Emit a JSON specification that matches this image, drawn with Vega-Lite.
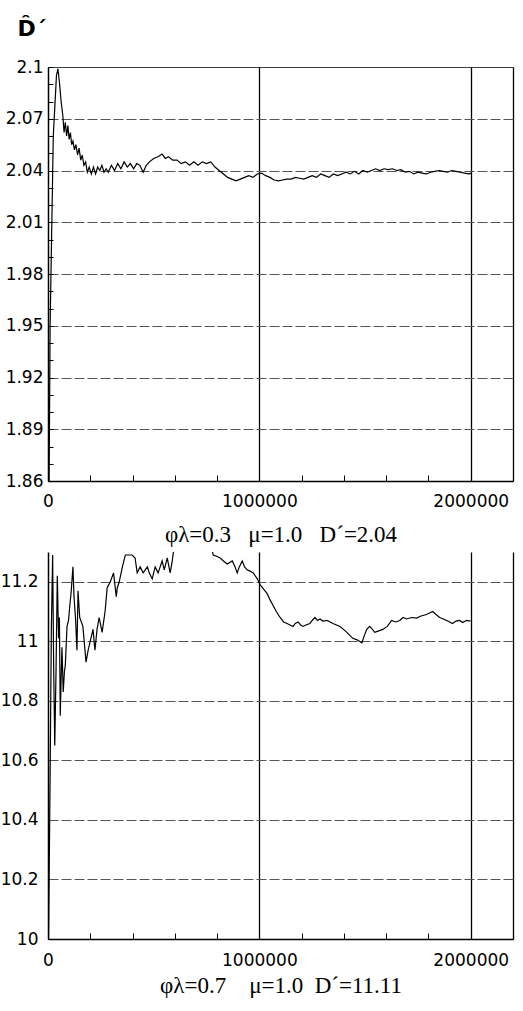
{
  "$schema": "https://vega.github.io/schema/vega-lite/v6.json",
  "padding": {"left": 0, "top": 17, "right": 5, "bottom": 5},
  "background": "white",
  "spacing": 6,
  "config": {
    "font": "DejaVu Sans",
    "view": {"stroke": null},
    "axis": {
      "labelFont": "DejaVu Sans",
      "labelFontSize": 17,
      "labelColor": "black",
      "domainColor": "black",
      "domainWidth": 1.5,
      "tickColor": "black",
      "titleColor": "black"
    }
  },
  "datasets": {
    "top": [
      {"n": 2000, "d": 1.80}, {"n": 10000, "d": 1.95}, {"n": 25000, "d": 2.06}, {"n": 40000, "d": 2.095},
      {"n": 47000, "d": 2.099}, {"n": 55000, "d": 2.09}, {"n": 62000, "d": 2.08}, {"n": 70000, "d": 2.072},
      {"n": 76000, "d": 2.062}, {"n": 82000, "d": 2.068}, {"n": 88000, "d": 2.06}, {"n": 94000, "d": 2.066},
      {"n": 100000, "d": 2.058}, {"n": 106000, "d": 2.062}, {"n": 112000, "d": 2.055}, {"n": 118000, "d": 2.057},
      {"n": 125000, "d": 2.052}, {"n": 132000, "d": 2.055}, {"n": 140000, "d": 2.049}, {"n": 147000, "d": 2.053},
      {"n": 155000, "d": 2.046}, {"n": 162000, "d": 2.049}, {"n": 170000, "d": 2.043}, {"n": 178000, "d": 2.045},
      {"n": 186000, "d": 2.039}, {"n": 195000, "d": 2.042}, {"n": 205000, "d": 2.038}, {"n": 215000, "d": 2.042},
      {"n": 225000, "d": 2.038}, {"n": 235000, "d": 2.042}, {"n": 245000, "d": 2.04}, {"n": 255000, "d": 2.043},
      {"n": 265000, "d": 2.039}, {"n": 275000, "d": 2.041}, {"n": 285000, "d": 2.039}, {"n": 300000, "d": 2.043},
      {"n": 315000, "d": 2.04}, {"n": 330000, "d": 2.044}, {"n": 345000, "d": 2.041}, {"n": 360000, "d": 2.045},
      {"n": 375000, "d": 2.042}, {"n": 390000, "d": 2.044}, {"n": 405000, "d": 2.041}, {"n": 420000, "d": 2.044},
      {"n": 435000, "d": 2.043}, {"n": 450000, "d": 2.039}, {"n": 465000, "d": 2.043}, {"n": 480000, "d": 2.045},
      {"n": 500000, "d": 2.047}, {"n": 520000, "d": 2.048}, {"n": 540000, "d": 2.0495}, {"n": 555000, "d": 2.047},
      {"n": 570000, "d": 2.048}, {"n": 590000, "d": 2.046}, {"n": 610000, "d": 2.046}, {"n": 630000, "d": 2.044},
      {"n": 650000, "d": 2.045}, {"n": 670000, "d": 2.043}, {"n": 690000, "d": 2.045}, {"n": 710000, "d": 2.043},
      {"n": 730000, "d": 2.045}, {"n": 750000, "d": 2.044}, {"n": 770000, "d": 2.045}, {"n": 790000, "d": 2.042},
      {"n": 810000, "d": 2.04}, {"n": 830000, "d": 2.038}, {"n": 850000, "d": 2.036}, {"n": 870000, "d": 2.035},
      {"n": 890000, "d": 2.034}, {"n": 910000, "d": 2.035}, {"n": 930000, "d": 2.036}, {"n": 950000, "d": 2.037},
      {"n": 970000, "d": 2.036}, {"n": 990000, "d": 2.038}, {"n": 1010000, "d": 2.0385}, {"n": 1030000, "d": 2.037},
      {"n": 1050000, "d": 2.036}, {"n": 1070000, "d": 2.0345}, {"n": 1090000, "d": 2.034}, {"n": 1110000, "d": 2.0345},
      {"n": 1130000, "d": 2.035}, {"n": 1150000, "d": 2.035}, {"n": 1170000, "d": 2.036}, {"n": 1190000, "d": 2.0355},
      {"n": 1210000, "d": 2.035}, {"n": 1230000, "d": 2.036}, {"n": 1250000, "d": 2.037}, {"n": 1270000, "d": 2.036},
      {"n": 1290000, "d": 2.038}, {"n": 1310000, "d": 2.037}, {"n": 1330000, "d": 2.036}, {"n": 1350000, "d": 2.038},
      {"n": 1370000, "d": 2.037}, {"n": 1390000, "d": 2.038}, {"n": 1410000, "d": 2.039}, {"n": 1430000, "d": 2.038},
      {"n": 1450000, "d": 2.0395}, {"n": 1470000, "d": 2.038}, {"n": 1490000, "d": 2.04}, {"n": 1510000, "d": 2.039},
      {"n": 1530000, "d": 2.04}, {"n": 1550000, "d": 2.041}, {"n": 1570000, "d": 2.04}, {"n": 1590000, "d": 2.041},
      {"n": 1610000, "d": 2.0405}, {"n": 1630000, "d": 2.041}, {"n": 1650000, "d": 2.04}, {"n": 1670000, "d": 2.0405},
      {"n": 1690000, "d": 2.039}, {"n": 1710000, "d": 2.0395}, {"n": 1730000, "d": 2.038}, {"n": 1750000, "d": 2.039},
      {"n": 1770000, "d": 2.0385}, {"n": 1790000, "d": 2.038}, {"n": 1810000, "d": 2.039}, {"n": 1830000, "d": 2.0395},
      {"n": 1850000, "d": 2.04}, {"n": 1870000, "d": 2.0395}, {"n": 1890000, "d": 2.039}, {"n": 1910000, "d": 2.04},
      {"n": 1930000, "d": 2.0395}, {"n": 1950000, "d": 2.039}, {"n": 1970000, "d": 2.0385}, {"n": 1990000, "d": 2.038},
      {"n": 2005000, "d": 2.0385}
    ],
    "bot": [
      {"n": 2000, "d": 9.95}, {"n": 10000, "d": 10.55}, {"n": 16000, "d": 11.05}, {"n": 22000, "d": 11.29},
      {"n": 27000, "d": 10.9}, {"n": 32000, "d": 10.65}, {"n": 38000, "d": 10.9}, {"n": 44000, "d": 11.22},
      {"n": 50000, "d": 11.01}, {"n": 54000, "d": 11.08}, {"n": 58000, "d": 10.75}, {"n": 62000, "d": 10.87},
      {"n": 66000, "d": 10.98}, {"n": 72000, "d": 10.83}, {"n": 78000, "d": 10.9}, {"n": 82000, "d": 10.92},
      {"n": 90000, "d": 11.05}, {"n": 97000, "d": 11.07}, {"n": 102000, "d": 11.11}, {"n": 110000, "d": 11.17},
      {"n": 118000, "d": 11.25}, {"n": 123000, "d": 11.15}, {"n": 130000, "d": 11.08}, {"n": 137000, "d": 10.97},
      {"n": 142000, "d": 11.17}, {"n": 150000, "d": 11.08}, {"n": 165000, "d": 11.05}, {"n": 180000, "d": 10.93},
      {"n": 190000, "d": 10.97}, {"n": 203000, "d": 11.01}, {"n": 213000, "d": 11.04}, {"n": 222000, "d": 10.97},
      {"n": 232000, "d": 11.04}, {"n": 242000, "d": 11.08}, {"n": 256000, "d": 11.03}, {"n": 270000, "d": 11.1},
      {"n": 280000, "d": 11.18}, {"n": 295000, "d": 11.2}, {"n": 310000, "d": 11.23}, {"n": 323000, "d": 11.15},
      {"n": 328000, "d": 11.18}, {"n": 337000, "d": 11.2}, {"n": 352000, "d": 11.25}, {"n": 366000, "d": 11.29},
      {"n": 380000, "d": 11.29}, {"n": 398000, "d": 11.29}, {"n": 412000, "d": 11.28}, {"n": 422000, "d": 11.23},
      {"n": 436000, "d": 11.25}, {"n": 450000, "d": 11.23}, {"n": 470000, "d": 11.25}, {"n": 479000, "d": 11.23},
      {"n": 493000, "d": 11.21}, {"n": 507000, "d": 11.25}, {"n": 521000, "d": 11.23}, {"n": 540000, "d": 11.27},
      {"n": 550000, "d": 11.24}, {"n": 564000, "d": 11.28}, {"n": 578000, "d": 11.23}, {"n": 588000, "d": 11.27},
      {"n": 595000, "d": 11.31}, {"n": 630000, "d": 11.35}, {"n": 680000, "d": 11.38}, {"n": 730000, "d": 11.36},
      {"n": 770000, "d": 11.32}, {"n": 782000, "d": 11.29}, {"n": 800000, "d": 11.285}, {"n": 815000, "d": 11.28},
      {"n": 830000, "d": 11.27}, {"n": 848000, "d": 11.26}, {"n": 872000, "d": 11.27}, {"n": 885000, "d": 11.25},
      {"n": 895000, "d": 11.23}, {"n": 905000, "d": 11.25}, {"n": 919000, "d": 11.27}, {"n": 930000, "d": 11.25},
      {"n": 942000, "d": 11.24}, {"n": 958000, "d": 11.235}, {"n": 971000, "d": 11.23}, {"n": 990000, "d": 11.21},
      {"n": 1004000, "d": 11.19}, {"n": 1020000, "d": 11.175}, {"n": 1037000, "d": 11.16}, {"n": 1050000, "d": 11.14},
      {"n": 1065000, "d": 11.12}, {"n": 1080000, "d": 11.1}, {"n": 1098000, "d": 11.08}, {"n": 1115000, "d": 11.065},
      {"n": 1131000, "d": 11.06}, {"n": 1145000, "d": 11.055}, {"n": 1159000, "d": 11.05}, {"n": 1170000, "d": 11.06},
      {"n": 1183000, "d": 11.065}, {"n": 1195000, "d": 11.055}, {"n": 1206000, "d": 11.05}, {"n": 1220000, "d": 11.055},
      {"n": 1239000, "d": 11.06}, {"n": 1250000, "d": 11.07}, {"n": 1263000, "d": 11.08}, {"n": 1275000, "d": 11.07},
      {"n": 1287000, "d": 11.075}, {"n": 1300000, "d": 11.068}, {"n": 1320000, "d": 11.07}, {"n": 1335000, "d": 11.065},
      {"n": 1348000, "d": 11.06}, {"n": 1365000, "d": 11.055}, {"n": 1381000, "d": 11.05}, {"n": 1398000, "d": 11.04},
      {"n": 1414000, "d": 11.03}, {"n": 1428000, "d": 11.02}, {"n": 1442000, "d": 11.01}, {"n": 1462000, "d": 11.005},
      {"n": 1485000, "d": 10.995}, {"n": 1497000, "d": 11.02}, {"n": 1508000, "d": 11.04}, {"n": 1522000, "d": 11.05},
      {"n": 1535000, "d": 11.04}, {"n": 1546000, "d": 11.03}, {"n": 1565000, "d": 11.035}, {"n": 1584000, "d": 11.04},
      {"n": 1605000, "d": 11.05}, {"n": 1626000, "d": 11.07}, {"n": 1645000, "d": 11.065}, {"n": 1664000, "d": 11.07},
      {"n": 1680000, "d": 11.08}, {"n": 1697000, "d": 11.075}, {"n": 1720000, "d": 11.08}, {"n": 1744000, "d": 11.078},
      {"n": 1765000, "d": 11.085}, {"n": 1791000, "d": 11.09}, {"n": 1805000, "d": 11.095}, {"n": 1820000, "d": 11.1},
      {"n": 1836000, "d": 11.09}, {"n": 1853000, "d": 11.08}, {"n": 1870000, "d": 11.075}, {"n": 1886000, "d": 11.07},
      {"n": 1900000, "d": 11.065}, {"n": 1914000, "d": 11.06}, {"n": 1930000, "d": 11.068}, {"n": 1947000, "d": 11.07},
      {"n": 1962000, "d": 11.063}, {"n": 1980000, "d": 11.07}, {"n": 1999000, "d": 11.068}
    ]
  },
  "vconcat": [
    {
      "width": 465,
      "height": 414,
      "data": {"name": "top"},
      "mark": {"type": "line", "color": "black", "strokeWidth": 1.2, "clip": true},
      "encoding": {
        "x": {
          "field": "n",
          "type": "quantitative",
          "scale": {"domain": [0, 2200000], "nice": false, "zero": false},
          "axis": {
            "values": [0, 200000, 400000, 600000, 800000, 1000000, 1200000, 1400000, 1600000, 1800000, 2000000, 2200000],
            "format": "d",
            "labelExpr": "(datum.value === 0 || datum.value === 1000000 || datum.value === 2000000) ? datum.label : ''",
            "labelPadding": 18,
            "labelFlush": false,
            "labelOverlap": false,
            "tickSize": -6,
            "tickWidth": 1,
            "grid": true,
            "gridColor": "black",
            "gridWidth": 1.3,
            "gridOpacity": {"condition": {"test": "datum.value === 1000000 || datum.value === 2000000 || datum.value === 2200000", "value": 1}, "value": 0},
            "title": "φλ=0.3\u00a0\u00a0\u00a0μ=1.0\u00a0\u00a0\u00a0D´=2.04",
            "titleFont": "Liberation Serif",
            "titleFontSize": 23,
            "titleFontWeight": "normal",
            "titlePadding": 14
          }
        },
        "y": {
          "field": "d",
          "type": "quantitative",
          "scale": {"domain": [1.86, 2.1], "nice": false, "zero": false},
          "axis": {
            "values": [1.86, 1.87, 1.88, 1.89, 1.9, 1.91, 1.92, 1.93, 1.94, 1.95, 1.96, 1.97, 1.98, 1.99, 2, 2.01, 2.02, 2.03, 2.04, 2.05, 2.06, 2.07, 2.08, 2.09, 2.1],
            "format": "~g",
            "labelExpr": "round(datum.value * 100) % 3 === 0 ? datum.label : ''",
            "labelPadding": 10,
            "labelOverlap": false,
            "tickSize": -5,
            "tickWidth": 1,
            "grid": true,
            "gridWidth": 1,
            "gridOpacity": {"condition": {"test": "round(datum.value * 100) % 3 === 0 && datum.value > 1.865", "value": 1}, "value": 0},
            "gridColor": {"condition": {"test": "datum.value > 2.095", "value": "black"}, "value": "#555555"},
            "gridDash": {"condition": {"test": "datum.value > 2.095", "value": [1, 0]}, "value": [10, 3]},
            "title": "D̂´",
            "titleAngle": 0,
            "titleAlign": "left",
            "titleBaseline": "alphabetic",
            "titleX": -31,
            "titleY": -32,
            "titleFont": "DejaVu Sans",
            "titleFontWeight": "bold",
            "titleFontSize": 22
          }
        }
      }
    },
    {
      "width": 465,
      "height": 387,
      "data": {"name": "bot"},
      "mark": {"type": "line", "color": "black", "strokeWidth": 1.2, "clip": true},
      "encoding": {
        "x": {
          "field": "n",
          "type": "quantitative",
          "scale": {"domain": [0, 2200000], "nice": false, "zero": false},
          "axis": {
            "values": [0, 200000, 400000, 600000, 800000, 1000000, 1200000, 1400000, 1600000, 1800000, 2000000, 2200000],
            "format": "d",
            "labelExpr": "(datum.value === 0 || datum.value === 1000000 || datum.value === 2000000) ? datum.label : ''",
            "labelPadding": 19,
            "labelFlush": false,
            "labelOverlap": false,
            "tickSize": -6,
            "tickWidth": 1,
            "grid": true,
            "gridColor": "black",
            "gridWidth": 1.3,
            "gridOpacity": {"condition": {"test": "datum.value === 1000000 || datum.value === 2000000 || datum.value === 2200000", "value": 1}, "value": 0},
            "title": "φλ=0.7\u00a0\u00a0\u00a0\u00a0μ=1.0\u00a0\u00a0D´=11.11",
            "titleFont": "Liberation Serif",
            "titleFontSize": 23,
            "titleFontWeight": "normal",
            "titlePadding": 6
          }
        },
        "y": {
          "field": "d",
          "type": "quantitative",
          "scale": {"domain": [10, 11.3], "nice": false, "zero": false},
          "axis": {
            "values": [10, 10.2, 10.4, 10.6, 10.8, 11, 11.2],
            "format": "~g",
            "labelPadding": 10,
            "labelOverlap": false,
            "ticks": false,
            "grid": true,
            "gridWidth": 1,
            "gridColor": "#555555",
            "gridDash": [10, 3],
            "gridOpacity": {"condition": {"test": "datum.value > 10.1", "value": 1}, "value": 0},
            "title": null
          }
        }
      }
    }
  ]
}
